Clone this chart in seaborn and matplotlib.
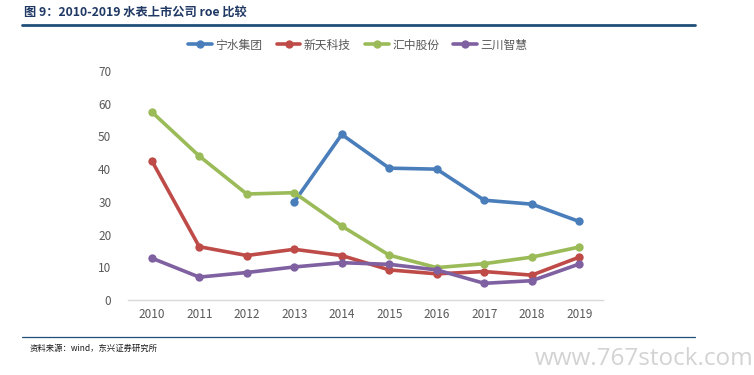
import numpy as np
import pandas as pd
import matplotlib
matplotlib.use("Agg")
import matplotlib.pyplot as plt
import seaborn as sns

years = [2010, 2011, 2012, 2013, 2014, 2015, 2016, 2017, 2018, 2019]
series_names = ["宁水集团", "新天科技", "汇中股份", "三川智慧"]
ningshui = [np.nan, np.nan, np.nan, 30.0, 50.6, 40.3, 40.0, 30.5, 29.3, 24.0]
xintian = [42.6, 16.3, 13.6, 15.5, 13.6, 9.2, 8.0, 8.7, 7.6, 13.1]
huizhong = [57.5, 44.0, 32.4, 32.8, 22.6, 13.7, 9.9, 11.1, 13.1, 16.2]
sanchuan = [12.8, 7.0, 8.4, 10.1, 11.4, 10.9, 9.2, 5.1, 5.9, 11.0]
colors = ["#4A7EBB", "#BE4B48", "#9BBB59", "#7F60A0"]
yticks = [0, 10, 20, 30, 40, 50, 60, 70]

sns.set_theme(style="white")
plt.rcParams['font.family'] = ['Noto Sans CJK SC', 'DejaVu Sans']

frames = []
for name, vals in zip(series_names, [ningshui, xintian, huizhong, sanchuan]):
    frames.append(pd.DataFrame({"year": years, "roe": vals, "company": name}))
df = pd.concat(frames, ignore_index=True).dropna()

fig = plt.figure(figsize=(7.54, 3.75), dpi=100)
ax = fig.add_axes([128/754, 75/375, 475/754, 229/375])

sns.lineplot(data=df, x="year", y="roe", hue="company", hue_order=series_names,
             palette=colors, marker="o", markersize=6, markeredgewidth=0,
             linewidth=2.6, ax=ax, legend=False)

ax.set_xlim(2009.5, 2019.5)
ax.set_ylim(0, 70)
ax.set_yticks(yticks)
ax.set_xticks(years)
ax.set_xticklabels([str(y) for y in years])
ax.set_xlabel("")
ax.set_ylabel("")
for s in ["top", "right", "left"]:
    ax.spines[s].set_visible(False)
ax.spines["bottom"].set_color("#D9D9D9")
ax.spines["bottom"].set_linewidth(1.0)
ax.tick_params(axis="both", length=0, labelsize=8.5, labelcolor="#595959", pad=6)
ax.tick_params(axis="y", pad=12)
ax.grid(False)

from matplotlib.lines import Line2D
handles = [Line2D([0], [0], color=c, lw=2.6, marker="o", markersize=6, markeredgewidth=0)
           for c in colors]
fig.legend(handles, series_names, loc="center", bbox_to_anchor=(358/754, 1 - 45/375),
           ncol=4, frameon=False, fontsize=8.5, labelcolor="#595959",
           handlelength=2.0, handletextpad=0.3, columnspacing=1.2)

# title and rules
fig.text(24/754, 1 - 13/375, "图 9：2010-2019 水表上市公司 roe 比较", fontsize=8.8,
         fontweight="bold", color="#1F3864", va="center", ha="left")
fig.add_artist(Line2D([22/754, 695/754], [1 - 24.5/375, 1 - 24.5/375],
                      color="#1F4E79", lw=2.0, transform=fig.transFigure))
fig.add_artist(Line2D([22/754, 695/754], [1 - 337/375, 1 - 337/375],
                      color="#1F4E79", lw=0.9, transform=fig.transFigure))
fig.text(30/754, 1 - 348/375, "资料来源：wind，东兴证券研究所", fontsize=6,
         style="italic", color="#1a1a1a", va="center", ha="left")
fig.text(535/754, 1 - 359/375, "www.767stock.com", fontsize=17.5,
         color="#D3D3D3", va="center", ha="left", family=["Open Sans", "DejaVu Sans"])

fig.savefig("out.png", dpi=100)
